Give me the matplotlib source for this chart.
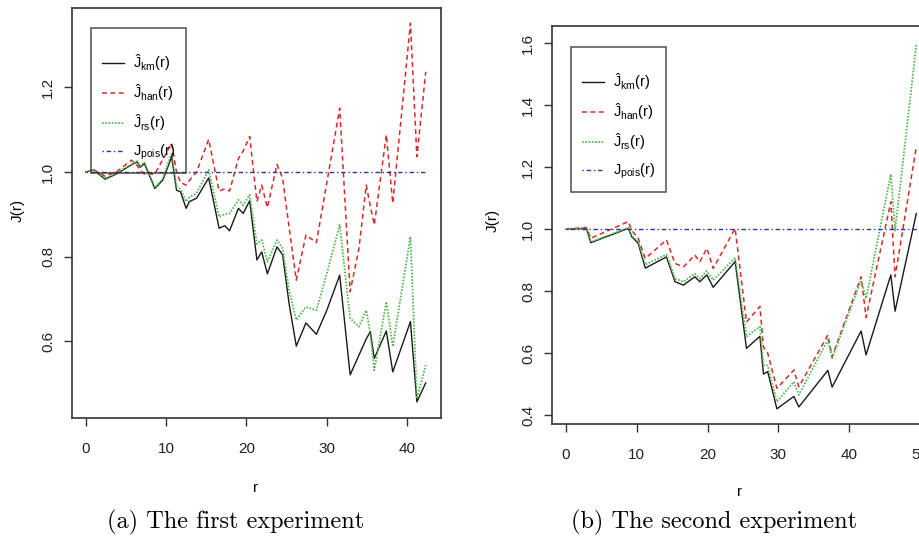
import matplotlib
matplotlib.use('Agg')
import matplotlib.pyplot as plt
from matplotlib import font_manager as fm

# ---------------- data ----------------
r1 = [0, 1.0, 2.4, 3.8, 5.7, 6.4, 6.8, 7.3, 8.6, 9.6, 10.7, 11.3, 11.8, 12.5, 12.9,
      13.8, 15.3, 16.6, 17.3, 17.9, 19.0, 19.6, 20.4, 21.3, 21.9, 22.6, 23.8, 24.5,
      25.3, 26.2, 27.4, 28.7, 30.0, 31.6, 32.9, 34.0, 34.9, 35.4, 35.9, 37.4, 38.2,
      40.4, 41.2, 42.3]
km1 = [1.0, 1.005, 0.983, 0.995, 1.017, 1.024, 1.011, 1.02, 0.961, 0.981, 1.036,
       0.957, 0.953, 0.914, 0.93, 0.938, 0.986, 0.867, 0.873, 0.861, 0.914, 0.902,
       0.932, 0.792, 0.811, 0.759, 0.823, 0.804, 0.689, 0.588, 0.643, 0.616, 0.673,
       0.756, 0.52, 0.567, 0.605, 0.622, 0.559, 0.624, 0.527, 0.646, 0.456, 0.501]
han1 = [1.0, 1.005, 0.99, 1.0, 1.028, 1.015, 1.005, 0.995, 0.995, 1.03, 1.068, 1.0,
        0.975, 0.969, 0.98, 1.0, 1.077, 0.955, 0.96, 0.955, 1.032, 1.05, 1.084, 0.93,
        0.969, 0.916, 1.018, 0.985, 0.87, 0.744, 0.851, 0.833, 0.975, 1.151, 0.717,
        0.82, 0.969, 0.92, 0.875, 1.088, 0.926, 1.352, 1.036, 1.237]
rs1 = [1.0, 1.005, 0.985, 0.997, 1.018, 1.026, 1.013, 1.024, 0.963, 0.985, 1.045,
       0.965, 0.96, 0.93, 0.94, 0.95, 1.005, 0.894, 0.9, 0.902, 0.934, 0.922, 0.946,
       0.83, 0.839, 0.788, 0.839, 0.819, 0.72, 0.65, 0.681, 0.673, 0.76, 0.875, 0.654,
       0.634, 0.673, 0.62, 0.531, 0.693, 0.587, 0.847, 0.464, 0.543]
pois1_r = [0, 42.3]
pois1 = [1.0, 1.0]

r2 = [0, 2.9, 3.5, 8.8, 9.3, 10.2, 11.2, 14.2, 15.4, 16.6, 18.2, 18.9, 19.9, 20.8,
      23.9, 25.5, 27.4, 27.9, 28.5, 29.8, 32.2, 32.9, 37.0, 37.6, 41.7, 42.4, 45.9,
      46.5, 49.5]
km2 = [1.0, 1.002, 0.956, 1.002, 0.975, 0.954, 0.874, 0.91, 0.83, 0.819, 0.846, 0.83,
       0.852, 0.812, 0.895, 0.615, 0.654, 0.532, 0.54, 0.42, 0.46, 0.426, 0.544, 0.49,
       0.671, 0.594, 0.852, 0.735, 1.05]
han2 = [1.0, 1.005, 0.97, 1.024, 0.995, 0.97, 0.905, 0.965, 0.889, 0.878, 0.916,
        0.894, 0.938, 0.873, 1.002, 0.70, 0.75, 0.62, 0.60, 0.486, 0.545, 0.491, 0.658,
        0.588, 0.846, 0.715, 1.088, 0.846, 1.265]
rs2 = [1.0, 1.002, 0.958, 1.004, 0.978, 0.96, 0.885, 0.918, 0.84, 0.83, 0.856, 0.84,
       0.865, 0.835, 0.907, 0.653, 0.685, 0.56, 0.56, 0.443, 0.507, 0.465, 0.642,
       0.583, 0.835, 0.776, 1.177, 0.995, 1.594]
pois2_r = [0, 50]
pois2 = [1.0, 1.0]

xticks1 = [0, 10, 20, 30, 40]
yticks1 = [0.6, 0.8, 1.0, 1.2]
xticks2 = [0, 10, 20, 30, 40, 50]
yticks2 = [0.4, 0.6, 0.8, 1.0, 1.2, 1.4, 1.6]

labels = [r'$\hat{J}_{km}(r)$', r'$\hat{J}_{han}(r)$', r'$\hat{J}_{rs}(r)$',
          r'$J_{pois}(r)$']
captions = ['(a) The first experiment', '(b) The second experiment']

# ---------------- style ----------------
names = {f.name for f in fm.fontManager.ttflist}
sans = 'Liberation Sans Narrow' if 'Liberation Sans Narrow' in names else 'Liberation Sans'
plt.rcParams['font.family'] = [sans, 'DejaVu Sans']
plt.rcParams['mathtext.fontset'] = 'custom'
plt.rcParams['mathtext.rm'] = sans
plt.rcParams['mathtext.it'] = sans
plt.rcParams['mathtext.bf'] = sans
plt.rcParams['mathtext.default'] = 'regular'

C_KM = '#1a1a1a'
C_HAN = '#d82a2a'
C_RS = '#4cb84c'
C_POIS = '#3030a8'
FRAME = '#333333'
FS = 11

W, H = 920, 538
fig = plt.figure(figsize=(W / 100, H / 100), dpi=100)


def px_axes(l, t, r, b):
    return fig.add_axes([l / W, 1 - b / H, (r - l) / W, (b - t) / H])


def draw(ax, r, km, han, rs, pr, pv, xlim, ylim, xt, yt, leg_pos):
    h1, = ax.plot(r, km, color=C_KM, lw=1.0, ls='-')
    h2, = ax.plot(r, han, color=C_HAN, lw=1.1, dashes=(3.2, 2.3))
    h3, = ax.plot(r, rs, color=C_RS, lw=1.3, dashes=(0.9, 0.9))
    h4, = ax.plot(pr, pv, color=C_POIS, lw=1.0, dashes=(1.0, 2.0, 3.2, 2.0))
    ax.set_xlim(*xlim)
    ax.set_ylim(*ylim)
    ax.set_xticks(xt)
    ax.set_yticks(yt)
    ax.set_xticklabels([str(v) for v in xt])
    ax.set_yticklabels(['%.1f' % v for v in yt], rotation=90, va='center')
    for s in ax.spines.values():
        s.set_color(FRAME)
        s.set_linewidth(1.2)
    ax.tick_params(direction='out', length=6, width=1.0, color=FRAME,
                   labelsize=FS, labelcolor='#222222')
    ax.tick_params(axis='x', pad=11)
    ax.tick_params(axis='y', pad=6)
    leg = ax.legend([h1, h2, h3, h4], labels, loc='upper left',
                    bbox_to_anchor=(leg_pos[0] / W, 1 - leg_pos[1] / H),
                    bbox_transform=fig.transFigure, borderaxespad=0,
                    fontsize=10.5, frameon=True, fancybox=False, shadow=False,
                    handlelength=1.5, handletextpad=0.6, labelspacing=0.64,
                    borderpad=0.75, title=' ', title_fontsize=2)
    fr = leg.get_frame()
    fr.set_facecolor('none')
    fr.set_edgecolor(FRAME)
    fr.set_linewidth(1.2)
    return leg


ax1 = px_axes(72, 8, 441, 418)
draw(ax1, r1, km1, han1, rs1, pois1_r, pois1, (-1.7, 44.2), (0.418, 1.388),
     xticks1, yticks1, (91, 28))
ax2 = px_axes(552, 26, 934, 424)
draw(ax2, r2, km2, han2, rs2, pois2_r, pois2, (-1.98, 52.0), (0.371, 1.655),
     xticks2, yticks2, (571, 47))

# axis titles
fig.text(18 / W, 1 - 210 / H, 'J(r)', rotation=90, ha='center', va='center', fontsize=FS)
fig.text(493 / W, 1 - 220 / H, 'J(r)', rotation=90, ha='center', va='center', fontsize=FS)
fig.text(256 / W, 1 - 488 / H, 'r', ha='center', va='center', fontsize=FS)
fig.text(740 / W, 1 - 492 / H, 'r', ha='center', va='center', fontsize=FS)

# captions
fig.text(236 / W, 1 - 522 / H, captions[0], family='cmr10', fontsize=17.5,
         ha='center', va='center')
fig.text(714 / W, 1 - 522 / H, captions[1], family='cmr10', fontsize=17.5,
         ha='center', va='center')

fig.savefig('out.png', dpi=100)
